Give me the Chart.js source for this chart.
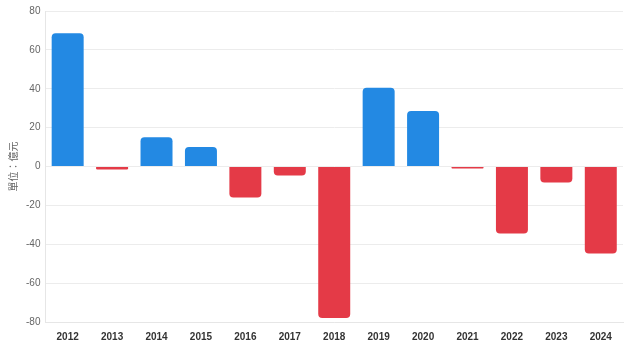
<!DOCTYPE html>
<html>
<head>
<meta charset="utf-8">
<script src="https://cdn.jsdelivr.net/npm/chart.js@4/dist/chart.umd.min.js"></script>
<style>
html,body{margin:0;padding:0;background:#fff;}
#wrap{width:639px;height:349px;position:relative;}
</style>
</head>
<body>
<div id="wrap"><canvas id="c"></canvas></div>
<script>
const categories = ["2012","2013","2014","2015","2016","2017","2018","2019","2020","2021","2022","2023","2024"];
const values = [68.5, -1.5, 15, 10, -16, -4.6, -78, 40.5, 28.6, -1, -34.5, -8.2, -44.8];
const yTicks = [-80, -60, -40, -20, 0, 20, 40, 60, 80];
const yTitle = "單位：億元";
const posColor = "#2389e3";
const negColor = "#e43a47";

new Chart(document.getElementById('c'), {
  type: 'bar',
  data: {
    labels: categories,
    datasets: [{
      data: values,
      backgroundColor: values.map(v => v >= 0 ? posColor : negColor),
      borderRadius: 4,
      borderSkipped: 'start',
      barPercentage: 0.72,
      categoryPercentage: 1
    }]
  },
  options: {
    responsive: true,
    maintainAspectRatio: false,
    animation: false,
    layout: { padding: { top: -2, right: 16, bottom: -3, left: 5 } },
    plugins: { legend: { display: false }, tooltip: { enabled: false } },
    scales: {
      x: {
        grid: { display: false, drawTicks: false },
        border: { color: '#e6e6e6' },
        ticks: { color: '#333', font: { family: 'Liberation Sans', size: 10, weight: 'bold' }, padding: 9, maxRotation: 0 }
      },
      y: {
        min: -80, max: 80,
        afterBuildTicks: (s) => { s.ticks = yTicks.map(v => ({ value: v })); },
        grid: { color: '#ececec', drawTicks: false },
        border: { color: '#e6e6e6' },
        ticks: { color: '#666', font: { family: 'Liberation Sans', size: 10 }, padding: 5 },
        title: { display: true, text: yTitle, color: '#666', font: { family: "Noto Sans CJK TC", size: 10 }, padding: 2 }
      }
    }
  }
});
</script>
</body>
</html>
